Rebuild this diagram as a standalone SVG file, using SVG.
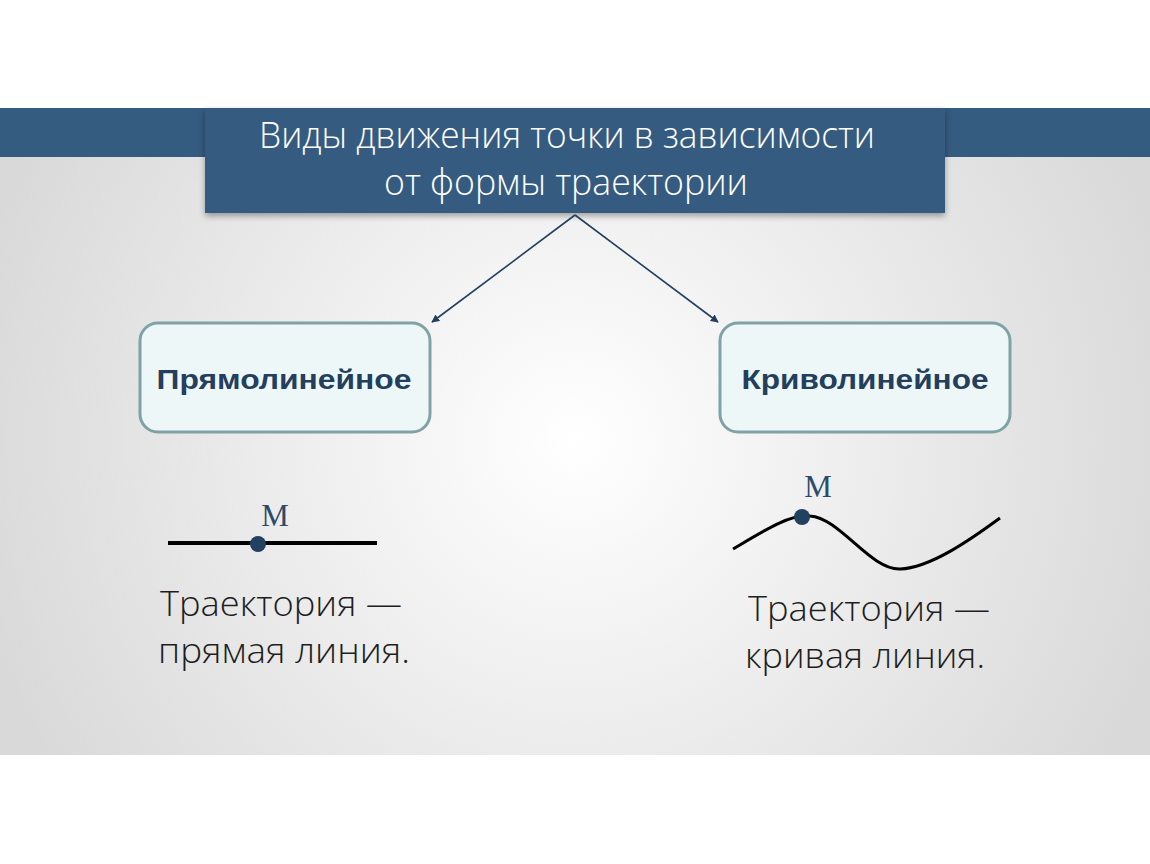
<svg xmlns="http://www.w3.org/2000/svg" width="1150" height="864" viewBox="0 0 1150 864">
<defs>
<radialGradient id="bg" cx="575" cy="440" r="620" gradientUnits="userSpaceOnUse">
<stop offset="0" stop-color="#ffffff"/>
<stop offset="1" stop-color="#d9d9d9"/>
</radialGradient>
<filter id="sh" x="-5%" y="-10%" width="110%" height="130%">
<feDropShadow dx="0" dy="3" stdDeviation="3" flood-color="#000" flood-opacity="0.35"/>
</filter>
<marker id="ah" viewBox="0 0 10 10" refX="9" refY="5" markerWidth="8" markerHeight="8" orient="auto" markerUnits="userSpaceOnUse">
<path d="M0,0 L10,5 L0,10 z" fill="#22405f"/>
</marker>
<style>
.title{font-family:"Open Sans","Liberation Sans",sans-serif;font-size:37px;fill:#ffffff;text-anchor:middle;font-weight:300}
.box{fill:#eef7f8;stroke:#80a2a6;stroke-width:3}
.lbl{font-family:"Liberation Sans",Arial,sans-serif;font-weight:bold;font-size:27px;fill:#233f5d;text-anchor:middle}
.m{font-family:"Liberation Serif","Times New Roman",serif;font-size:31px;fill:#2c4b6b;text-anchor:middle}
.cap{font-family:"Open Sans","Noto Sans",sans-serif;font-weight:300;font-size:34px;fill:#1e1e1e;text-anchor:middle}
.conn{stroke:#22405f;stroke-width:1.6;fill:none}
</style>
</defs>
<rect x="0" y="0" width="1150" height="864" fill="#ffffff"/>
<rect x="0" y="108" width="1150" height="647" fill="url(#bg)"/>
<rect x="0" y="108" width="1150" height="49" fill="#345b80"/>
<g id="title">
<rect x="205" y="108" width="740" height="105" fill="#345b80" filter="url(#sh)"/>
<text class="title" x="567" y="148" textLength="616" lengthAdjust="spacingAndGlyphs">Виды движения точки в зависимости</text>
<text class="title" x="566" y="195" textLength="364" lengthAdjust="spacingAndGlyphs">от формы траектории</text>
</g>
<g id="connectors">
<line class="conn" x1="575" y1="215" x2="432" y2="322" marker-end="url(#ah)"/>
<line class="conn" x1="575" y1="215" x2="718" y2="322" marker-end="url(#ah)"/>
</g>
<g id="node-straight">
<rect class="box" x="140" y="323" width="290" height="109" rx="18"/>
<text class="lbl" x="284" y="389" textLength="255" lengthAdjust="spacingAndGlyphs">Прямолинейное</text>
</g>
<g id="node-curved">
<rect class="box" x="720" y="323" width="290" height="109" rx="18"/>
<text class="lbl" x="865" y="389" textLength="247" lengthAdjust="spacingAndGlyphs">Криволинейное</text>
</g>
<g id="straight-example">
<line x1="168" y1="543" x2="377" y2="543" stroke="#000" stroke-width="4"/>
<circle cx="258" cy="544" r="8" fill="#22405f"/>
<text class="m" x="275" y="526">M</text>
<text class="cap" x="281" y="616" textLength="242" lengthAdjust="spacingAndGlyphs">Траектория —</text>
<text class="cap" x="284" y="663" textLength="252" lengthAdjust="spacingAndGlyphs">прямая линия.</text>
</g>
<g id="curved-example">
<path d="M733,549 C765,530 790,514 810,516 C840,518 870,570 900,569 C930,568 970,540 1000,518" fill="none" stroke="#000" stroke-width="3"/>
<circle cx="802" cy="517" r="8" fill="#22405f"/>
<text class="m" x="818" y="497">M</text>
<text class="cap" x="869" y="621" textLength="242" lengthAdjust="spacingAndGlyphs">Траектория —</text>
<text class="cap" x="865" y="668" textLength="240" lengthAdjust="spacingAndGlyphs">кривая линия.</text>
</g>
</svg>
